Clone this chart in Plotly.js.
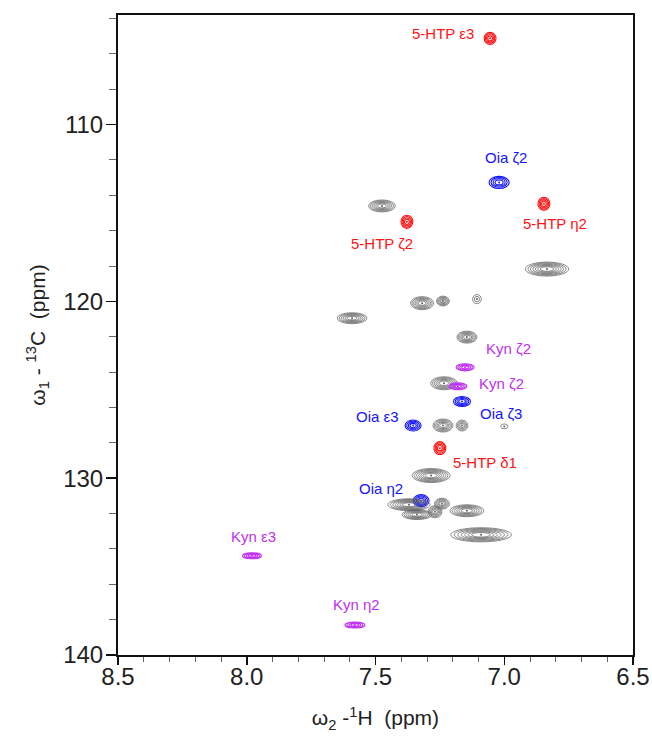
<!DOCTYPE html>
<html>
<head>
<meta charset="utf-8">
<script src="https://cdn.plot.ly/plotly-3.0.1.min.js"></script>
<style>html,body{margin:0;padding:0;background:#fff;}#chart{width:652px;height:739px;}</style>
</head>
<body>
<div id="chart"></div>
<script>
// Peak list: 1H shift, 13C shift, half-widths (ppm), group
const peakH    = [7.055, 7.020, 6.846, 7.378, 7.475, 6.834, 7.319, 7.238, 7.106, 7.591, 7.145, 7.152, 7.234, 7.180, 7.164, 7.354, 7.238, 7.164, 7.000, 7.250, 7.284, 7.323, 7.370, 7.242, 7.339, 7.269, 7.145, 7.090, 7.980, 7.580];
const peakC    = [105.12, 113.27, 114.48, 115.50, 114.60, 118.17, 120.10, 119.98, 119.87, 120.95, 122.02, 123.73, 124.63, 124.80, 125.66, 127.02, 127.02, 127.02, 127.07, 128.30, 129.85, 131.27, 131.50, 131.44, 132.06, 131.90, 131.84, 133.20, 134.39, 138.30];
const peakWH   = [0.023, 0.039, 0.023, 0.023, 0.052, 0.084, 0.045, 0.025, 0.017, 0.058, 0.039, 0.035, 0.052, 0.035, 0.033, 0.031, 0.039, 0.023, 0.014, 0.023, 0.074, 0.031, 0.082, 0.029, 0.058, 0.027, 0.066, 0.118, 0.037, 0.039];
const peakWC   = [0.34, 0.34, 0.37, 0.37, 0.34, 0.40, 0.37, 0.28, 0.26, 0.31, 0.34, 0.20, 0.37, 0.20, 0.28, 0.31, 0.37, 0.31, 0.14, 0.37, 0.40, 0.34, 0.34, 0.31, 0.28, 0.34, 0.34, 0.40, 0.17, 0.17];
const peakGroup = ["HTP", "Oia", "HTP", "HTP", "ref", "ref", "ref", "ref", "ref", "ref", "ref", "Kyn", "ref", "Kyn", "Oia", "Oia", "ref", "ref", "ref", "HTP", "ref", "Oia", "ref", "ref", "ref", "ref", "ref", "ref", "Kyn", "Kyn"];
const peakLevels = [4, 4, 4, 4, 6, 7, 6, 5, 2, 6, 6, 4, 6, 4, 4, 4, 6, 4, 1, 4, 7, 4, 7, 5, 6, 5, 6, 7, 4, 4];

// Assignment labels
const labelText = ["5-HTP ε3", "Oia ζ2", "5-HTP η2", "5-HTP ζ2", "Kyn ζ2", "Kyn ζ2", "Oia ζ3", "Oia ε3", "5-HTP δ1", "Oia η2", "Kyn ε3", "Kyn η2"];
const labelH    = [7.238, 6.993, 6.803, 7.475, 6.985, 7.009, 7.013, 7.494, 7.075, 7.479, 7.972, 7.572];
const labelC    = [104.84, 111.87, 115.62, 116.75, 122.65, 124.63, 126.34, 126.50, 129.12, 130.59, 133.31, 137.17];
const labelGroup = ["HTP", "Oia", "HTP", "HTP", "Kyn", "Kyn", "Oia", "Oia", "HTP", "Oia", "Kyn", "Kyn"];

const groupColor = {HTP: "#ff1414", Oia: "#1414ff", Kyn: "#c030f0", ref: "#5a5a5a"};
const labelColor = {HTP: "#ff1414", Oia: "#1414ff", Kyn: "#c030f0"};

const shapes = [];
for (let i = 0; i < peakH.length; i++) {
  const isRef = peakGroup[i] === "ref";
  const col = groupColor[peakGroup[i]];
  const lw = isRef ? 0.7 : 1.1;
  const n = peakLevels[i];
  for (let k = 0; k < n; k++) {
    const s = 1 - k * 0.8 / Math.max(n, 2);
    shapes.push({
      type: "circle", xref: "x", yref: "y",
      x0: peakH[i] - peakWH[i] * s, x1: peakH[i] + peakWH[i] * s,
      y0: peakC[i] - peakWC[i] * s, y1: peakC[i] + peakWC[i] * s,
      line: {color: col, width: lw}, layer: "above"
    });
  }
}

const annotations = labelText.map((t, i) => ({
  x: labelH[i], y: labelC[i], xref: "x", yref: "y", text: t, showarrow: false,
  font: {family: "Liberation Sans, Arial, sans-serif", size: 15, color: labelColor[labelGroup[i]]}
}));

const trace = {
  type: "scatter", mode: "markers", x: peakH, y: peakC,
  marker: {size: 2, color: peakGroup.map(g => groupColor[g])},
  hoverinfo: "x+y", showlegend: false
};

const axisFont = {family: "Liberation Sans, Arial, sans-serif", size: 24, color: "#222"};
const layout = {
  width: 652, height: 739,
  margin: {l: 118, r: 19, t: 15, b: 84},
  paper_bgcolor: "#fff", plot_bgcolor: "#fff",
  showlegend: false,
  xaxis: {
    range: [8.5, 6.5], dtick: 0.5, tick0: 6.5, tickformat: ".1f",
    showgrid: false, zeroline: false,
    showline: true, linecolor: "#111", linewidth: 2, mirror: true,
    ticks: "outside", ticklen: 8, tickwidth: 1.5, tickcolor: "#111",
    minor: {dtick: 0.1, ticks: "outside", ticklen: 5, tickwidth: 1, tickcolor: "#666", showgrid: false},
    tickfont: axisFont, ticklabelstandoff: -9,
    title: {text: "ω<sub>2</sub> -<sup>1</sup>H  (ppm)", font: {family: "Liberation Sans, Arial, sans-serif", size: 21, color: "#222"}, standoff: 22}
  },
  yaxis: {
    range: [140, 103.8], dtick: 10, tick0: 100,
    showgrid: false, zeroline: false,
    showline: true, linecolor: "#111", linewidth: 2, mirror: true,
    ticks: "outside", ticklen: 10, tickwidth: 1.5, tickcolor: "#111",
    minor: {dtick: 2, ticks: "outside", ticklen: 7, tickwidth: 1, tickcolor: "#666", showgrid: false},
    tickfont: axisFont, ticklabelstandoff: -2,
    title: {text: "ω<sub>1</sub> - <sup>13</sup>C  (ppm)", font: {family: "Liberation Sans, Arial, sans-serif", size: 21, color: "#222"}, standoff: 12}
  },
  shapes: shapes,
  annotations: annotations
};

Plotly.newPlot("chart", [trace], layout, {displayModeBar: false, staticPlot: true});
</script>
</body>
</html>
